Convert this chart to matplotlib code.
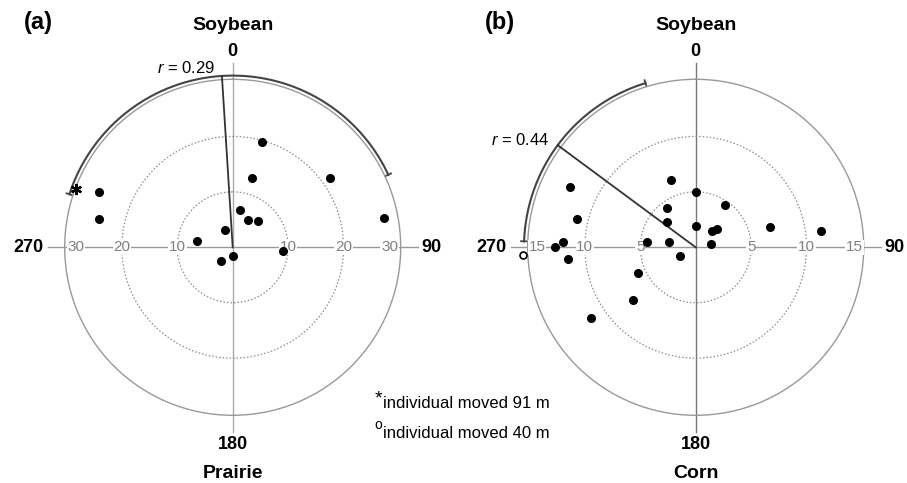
import numpy as np
import matplotlib.pyplot as plt

plt.rcParams["font.family"] = ["Liberation Sans", "DejaVu Sans"]
plt.rcParams["mathtext.fontset"] = "custom"
plt.rcParams["mathtext.rm"] = "Liberation Sans"
plt.rcParams["mathtext.it"] = "Liberation Sans:italic"

# panel (a): soybean vs prairie, distance in m, bearing in degrees
ang_a = [292.5, 282, 280.4, 336, 11, 28.8, 15.4, 221, 180, 15.7, 44.2, 93.8, 54.3, 78.9]
dist_a = [26.1, 24.6, 6.6, 3.4, 6.8, 5.6, 13.0, 3.2, 1.6, 19.7, 6.6, 9.1, 21.5, 27.9]
mean_a = 356.4
arc_a = [288, 425]
r_a = "0.29"
star_a = (290.4, 30.1)

# panel (b): soybean vs corn
ang_b = [339.8, 0, 324.6, 311.4, 0, 295.6, 283.2, 272.4, 270.2, 264.8, 275.8,
         280.6, 240.5, 245.6, 230.1, 236.1, 34.7, 43.9, 48.9, 77.8, 74.8, 82.4]
dist_b = [6.5, 4.95, 4.4, 3.4, 1.95, 12.6, 11.0, 12.0, 12.7, 11.6, 4.4,
          2.45, 1.6, 5.7, 7.4, 11.4, 4.6, 2.1, 2.5, 1.4, 6.9, 11.4]
mean_b = 306.5
arc_b = [272, 343]
r_b = "0.44"
open_b = (267.4, 15.56)

W, H = 907, 483
fig = plt.figure(figsize=(W / 100, H / 100), dpi=100)

def make_panel(cx, rmax, rings, tick_pos, tick_lab, ang, dist, mean, arc, rtxt,
               rlab_ang, letter, bottom_txt, vcol):
    R = 168
    cy = 247.3
    ax = fig.add_axes([(cx - R) / W, (H - cy - R) / H, 2 * R / W, 2 * R / H],
                      projection="polar")
    ax.set_theta_zero_location("N")
    ax.set_theta_direction(-1)
    ax.set_ylim(0, rmax)
    ax.set_xticks([])
    ax.set_yticks(rings)
    ax.set_yticklabels([])
    ax.yaxis.grid(True, linestyle=(0, (1.2, 1.6)), color="#8c8c8c", lw=0.9)
    ax.spines["polar"].set_color("#999999")
    ax.spines["polar"].set_linewidth(1.0)

    ext = 1.1 * rmax
    for t in [90, 270]:
        ax.plot([np.deg2rad(t)] * 2, [0, ext], color="#999999", lw=1.0,
                clip_on=False, zorder=1)
    for t in [0, 180]:
        ax.plot([np.deg2rad(t)] * 2, [0, ext], color=vcol, lw=1.0,
                clip_on=False, zorder=1)

    for p, lab in zip(tick_pos, tick_lab):
        for t in [90, 270]:
            ax.text(np.deg2rad(t), p, lab, ha="center", va="center", fontsize=11,
                    color="#808080", zorder=3,
                    bbox=dict(facecolor="white", edgecolor="none", pad=0.6))

    ax.plot(np.deg2rad(ang), dist, "o", color="black", ms=5.5, zorder=4, clip_on=False)

    # mean direction and arc
    ra = 1.022 * rmax
    ax.plot([np.deg2rad(mean)] * 2, [0, ra], color="#333333", lw=1.3, zorder=3,
            clip_on=False)
    th = np.deg2rad(np.linspace(arc[0], arc[1], 200))
    ax.plot(th, np.full_like(th, ra), color="#444444", lw=1.5, clip_on=False)
    for e in arc:
        ax.plot([np.deg2rad(e)] * 2, [1.003 * rmax, 1.04 * rmax], color="#444444",
                lw=1.3, clip_on=False)
    ax.text(np.deg2rad(rlab_ang[0]), rlab_ang[1] * rmax, "$r$ = " + rtxt,
            ha="right", va="center", fontsize=12)

    lab_r = 1.125 * rmax
    ax.text(np.deg2rad(270), lab_r, "270", ha="right", va="center", fontsize=13,
            fontweight="bold")
    ax.text(np.deg2rad(90), lab_r, "90", ha="left", va="center", fontsize=13,
            fontweight="bold")
    ax.text(0, 1.167 * rmax, "0", ha="center", va="center", fontsize=13,
            fontweight="bold")
    ax.text(np.pi, 1.172 * rmax, "180", ha="center", va="center", fontsize=13,
            fontweight="bold")
    ax.text(0, 1.32 * rmax, "Soybean", ha="center", va="center", fontsize=14,
            fontweight="bold")
    ax.text(np.pi, 1.345 * rmax, bottom_txt, ha="center", va="center", fontsize=14,
            fontweight="bold")
    fig.text(letter[0] / W, 1 - letter[1] / H, letter[2], ha="center", va="center",
             fontsize=17, fontweight="bold")
    return ax

ax1 = make_panel(232.7, 30.3, [10, 20], [10, 20, 28.3], ["10", "20", "30"],
                 ang_a, dist_a, mean_a, arc_a, r_a, (354.4, 1.07),
                 (38, 22, "(a)"), "Prairie", "#aaaaaa")
ax1.plot(np.deg2rad(star_a[0]), star_a[1], marker=(6, 2, 0), color="black", ms=8,
         mew=1.6, clip_on=False, zorder=5)

ax2 = make_panel(695.7, 15.15, [5, 10], [5, 10, 14.3], ["5", "10", "15"],
                 ang_b, dist_b, mean_b, arc_b, r_b, (306.2, 1.08),
                 (500, 22, "(b)"), "Corn", "#777777")
ax2.plot(np.deg2rad(open_b[0]), open_b[1], "o", mfc="white", mec="black", ms=5,
         mew=1.2, clip_on=False, zorder=5)

# footnote
fig.text(378 / W, 1 - 399 / H, "*", ha="center", va="center", fontsize=14)
fig.text(378 / W, 1 - 425 / H, "o", ha="center", va="center", fontsize=10)
fig.text(383 / W, 1 - 404 / H, "individual moved 91 m", ha="left",
         va="center", fontsize=12)
fig.text(383 / W, 1 - 433 / H, "individual moved 40 m", ha="left",
         va="center", fontsize=12)

fig.savefig("out.png", dpi=100, facecolor="white")
